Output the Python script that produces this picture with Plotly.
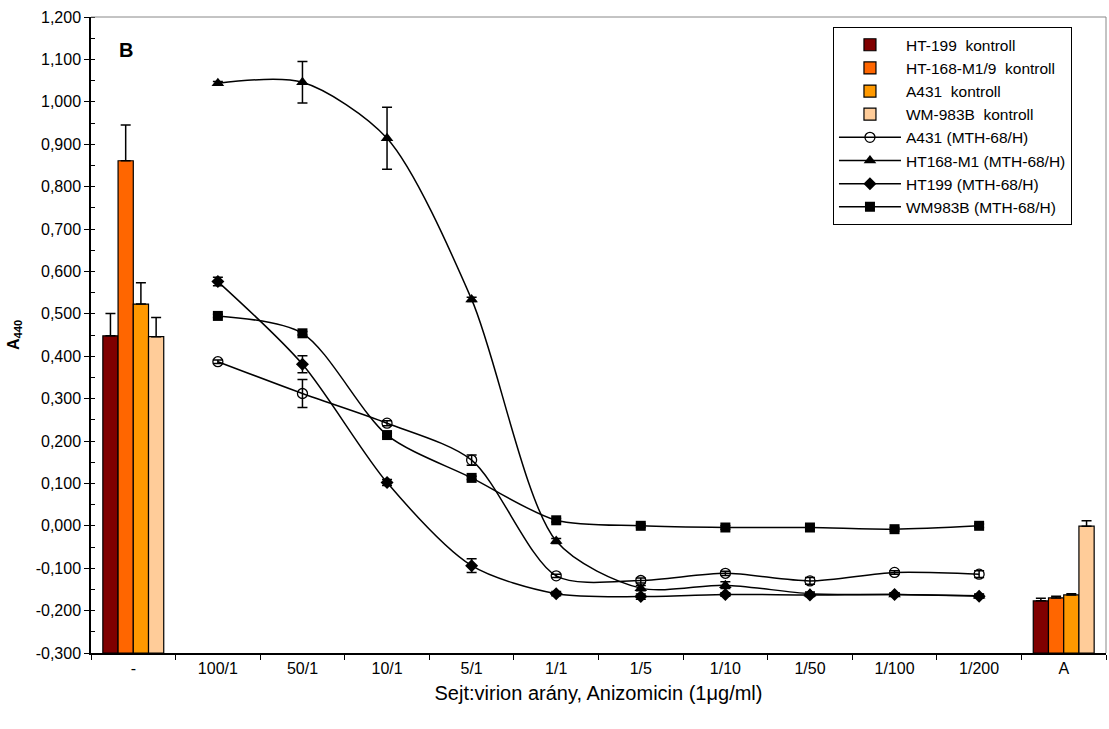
import plotly.graph_objects as go

categories = ["-", "100/1", "50/1", "10/1", "5/1", "1/1", "1/5", "1/10", "1/50", "1/100", "1/200", "A"]
line_cats = categories[1:11]
bar_cats = ["-", "A"]

bar_names = ["HT-199\u00a0 kontroll", "HT-168-M1/9\u00a0 kontroll", "A431\u00a0 kontroll", "WM-983B\u00a0 kontroll"]
bar_colors = ["#800000", "#FF6600", "#FF9900", "#FFCC99"]
bar_vals = [[0.448, -0.177], [0.861, -0.170], [0.523, -0.163], [0.446, -0.001]]
bar_errs = [[0.053, 0.006], [0.084, 0.004], [0.050, 0.003], [0.045, 0.013]]

line_names = ["A431 (MTH-68/H)", "HT168-M1 (MTH-68/H)", "HT199 (MTH-68/H)", "WM983B (MTH-68/H)"]
line_symbols = ["circle-open", "triangle-up", "diamond", "square"]
line_sizes = [10, 11, 10, 10]
a431 = [0.387, 0.312, 0.242, 0.155, -0.118, -0.129, -0.112, -0.130, -0.110, -0.114]
a431_err = [0.004, 0.033, 0.006, 0.012, 0.004, 0.006, 0.005, 0.008, 0.004, 0.008]
ht168 = [1.044, 1.046, 0.914, 0.534, -0.036, -0.147, -0.140, -0.160, -0.162, -0.165]
ht168_err = [0.004, 0.049, 0.073, 0.005, 0.006, 0.006, 0.008, 0.004, 0.004, 0.004]
ht199 = [0.576, 0.381, 0.102, -0.094, -0.160, -0.167, -0.162, -0.163, -0.162, -0.166]
ht199_err = [0.010, 0.020, 0.007, 0.016, 0.005, 0.006, 0.004, 0.004, 0.004, 0.004]
wm983 = [0.495, 0.454, 0.214, 0.113, 0.013, 0.000, -0.004, -0.004, -0.008, 0.000]
wm983_err = [0.004, 0.004, 0.004, 0.004, 0.004, 0.004, 0.004, 0.004, 0.004, 0.004]
line_vals = [a431, ht168, ht199, wm983]
line_errs = [a431_err, ht168_err, ht199_err, wm983_err]

y_min, y_max = -0.3, 1.2
y_ticks = [round(-0.3 + 0.1 * i, 1) for i in range(16)]
y_ticktext = [f"{v:.3f}".replace(".", ",") for v in y_ticks]

FONT = "Liberation Sans, Arial, sans-serif"

fig = go.Figure()

for name, color, vals, errs in zip(bar_names, bar_colors, bar_vals, bar_errs):
    fig.add_trace(go.Bar(
        x=bar_cats, y=[v - y_min for v in vals], base=y_min,
        name=name, marker=dict(color=color, line=dict(color="black", width=1.2)),
        error_y=dict(type="data", symmetric=False, array=errs, arrayminus=[0] * len(errs),
                     color="black", thickness=1.5, width=5),
    ))

for name, sym, size, vals, errs in zip(line_names, line_symbols, line_sizes, line_vals, line_errs):
    fig.add_trace(go.Scatter(
        x=line_cats, y=vals, name=name, mode="lines+markers",
        line=dict(color="black", width=1.5, shape="spline", smoothing=0.8),
        marker=dict(symbol=sym, size=size, color="black",
                    line=dict(color="black", width=1.3 if sym == "circle-open" else 0)),
        error_y=dict(type="data", array=errs, color="black", thickness=1.5, width=5),
    ))

fig.add_annotation(x=0.034, y=0.948, xref="paper", yref="paper", text="<b>B</b>",
                   showarrow=False, font=dict(family=FONT, size=20, color="black"),
                   xanchor="center", yanchor="middle")

fig.update_layout(
    width=1109, height=729,
    margin=dict(l=91, r=3, t=17, b=76, autoexpand=False),
    paper_bgcolor="white", plot_bgcolor="white",
    barmode="group", bargap=0.28, bargroupgap=0,
    font=dict(family=FONT, size=16, color="black"),
    showlegend=True,
    legend=dict(x=0.731, y=0.984, xanchor="left", yanchor="top",
                bgcolor="white", bordercolor="black", borderwidth=1,
                font=dict(family=FONT, size=15.5, color="black"),
                traceorder="normal", itemwidth=62),
    xaxis=dict(
        type="category", categoryorder="array", categoryarray=categories,
        range=[-0.5, len(categories) - 0.5], automargin=False,
        showline=True, linecolor="black", linewidth=1.5, mirror=False,
        ticks="outside", tickson="boundaries", ticklen=5, tickcolor="black",
        showgrid=False, zeroline=False,
        tickfont=dict(family=FONT, size=16),
        title=dict(text="Sejt:virion arány, Anizomicin (1μg/ml)",
                   font=dict(family=FONT, size=20), standoff=10),
    ),
    yaxis=dict(
        range=[y_min, y_max], tickmode="array", tickvals=y_ticks, ticktext=y_ticktext,
        automargin=False,
        showline=True, linecolor="black", linewidth=1.5,
        ticks="outside", ticklen=5, tickcolor="black",
        minor=dict(ticks="inside", dtick=0.05, tick0=0, ticklen=4, tickcolor="black", showgrid=False),
        showgrid=False, zeroline=False,
        tickfont=dict(family=FONT, size=16),
        title=dict(text="<b>A<sub>440</sub></b>", font=dict(family=FONT, size=16), standoff=12),
    ),
)

fig.add_shape(type="line", xref="paper", yref="paper", x0=0, x1=1, y0=1, y1=1,
              line=dict(color="#888888", width=1))
fig.add_shape(type="line", xref="paper", yref="paper", x0=1, x1=1, y0=0, y1=1,
              line=dict(color="#888888", width=1))

fig.write_html("out.html", config={"displayModeBar": False},
               post_script="document.body.style.margin='0';document.body.style.overflow='hidden';")
